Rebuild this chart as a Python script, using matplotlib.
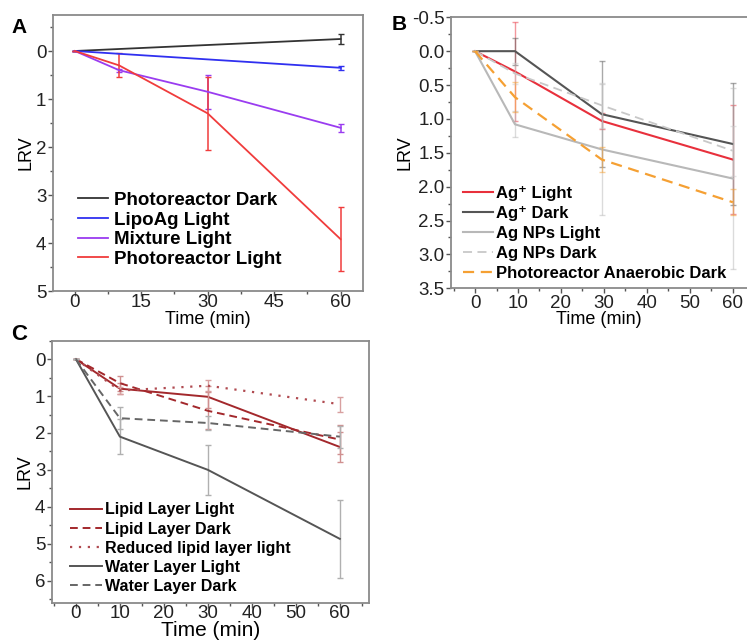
import matplotlib
matplotlib.use("Agg")
import matplotlib.pyplot as plt
from matplotlib.ticker import MultipleLocator

plt.rcParams['font.family'] = ['Liberation Sans', 'DejaVu Sans']

# ---------------- Data ----------------
# Panel A
a_x_two = [0, 60]
a_x_four = [0, 10, 30, 60]
a_dark = [0, -0.25]
a_dark_err = [0, 0.095]
a_lipo = [0, 0.35]
a_lipo_err = [0, 0.045]
a_mix = [0, 0.40, 0.85, 1.60]
a_mix_err = [0, 0.03, 0.35, 0.085]
a_light = [0, 0.30, 1.30, 3.92]
a_light_err = [0, 0.25, 0.76, 0.66]
a_labels = ["Photoreactor Dark", "LipoAg Light", "Mixture Light", "Photoreactor Light"]

# Panel B
b_x = [0, 9.3, 29.5, 60]
b_agl = [0, 0.30, 1.03, 1.60]
b_agl_err = [0, 0.73, 0.12, 0.80]
b_agd = [0, 0.00, 0.93, 1.37]
b_agd_err = [0, 0.20, 0.78, 0.90]
b_npl = [0, 1.08, 1.45, 1.88]
b_npl_err = [0, 0.19, 0.97, 1.34]
b_npd = [0, 0.33, 0.80, 1.47]
b_npd_err = [0, 0.15, 0.33, 0.37]
b_ana = [0, 0.68, 1.60, 2.23]
b_ana_err = [0, 0.22, 0.18, 0.19]
b_labels = ["Ag\u207a Light", "Ag\u207a Dark", "Ag NPs Light", "Ag NPs Dark",
            "Photoreactor Anaerobic Dark"]

# Panel C
c_x = [0, 10, 30, 60]
c_lll = [0, 0.80, 1.02, 2.38]
c_lll_err = [0, 0.15, 0.30, 0.40]
c_lld = [0, 0.65, 1.40, 2.18]
c_lld_err = [0, 0.20, 0.50, 0.40]
c_red = [0, 0.85, 0.72, 1.22]
c_red_err = [0, 0.10, 0.15, 0.20]
c_wll = [0, 2.10, 3.00, 4.87]
c_wll_err = [0, 0.48, 0.68, 1.05]
c_wld = [0, 1.60, 1.73, 2.10]
c_wld_err = [0, 0.30, 0.20, 0.30]
c_labels = ["Lipid Layer Light", "Lipid Layer Dark", "Reduced lipid layer light",
            "Water Layer Light", "Water Layer Dark"]

W, H = 747, 641
fig = plt.figure(figsize=(W / 100, H / 100), dpi=100)


def ax_px(l, r, t, b):
    return fig.add_axes([l / W, 1 - b / H, (r - l) / W, (b - t) / H])


SPINE = '#8a8a8a'


def style(ax, xmaj, xmin, ymaj, ymin, xpad, hide_right=False):
    for s in ax.spines.values():
        s.set_color(SPINE)
        s.set_linewidth(1.3)
    if hide_right:
        ax.spines['right'].set_visible(False)
    ax.xaxis.set_major_locator(MultipleLocator(xmaj))
    ax.xaxis.set_minor_locator(MultipleLocator(xmin))
    ax.yaxis.set_major_locator(MultipleLocator(ymaj))
    ax.yaxis.set_minor_locator(MultipleLocator(ymin))
    ax.tick_params(which='both', direction='out', color='#555555', top=False, right=False,
                   labelsize=13.5, labelcolor='#222222', width=1.0)
    ax.tick_params(which='major', length=3.5)
    ax.tick_params(which='minor', length=2.5)
    ax.tick_params(axis='y', which='major', pad=1)
    ax.tick_params(axis='x', which='major', pad=xpad)


# ---------------- Panel A ----------------
axA = ax_px(52.7, 362.7, 15, 291)
cA = ['#333333', '#3030f0', '#9a3cf0', '#f03c3c']
axA.errorbar(a_x_two, a_dark, yerr=a_dark_err, color=cA[0], lw=1.3, capsize=2.5, elinewidth=1.1,
             label=a_labels[0])
axA.errorbar(a_x_two, a_lipo, yerr=a_lipo_err, color=cA[1], lw=1.3, capsize=2.5, elinewidth=1.1,
             label=a_labels[1])
axA.errorbar(a_x_four, a_mix, yerr=a_mix_err, color=cA[2], lw=1.3, capsize=2.5, elinewidth=1.1,
             label=a_labels[2])
axA.errorbar(a_x_four, a_light, yerr=a_light_err, color=cA[3], lw=1.3, capsize=2.5, elinewidth=1.1,
             label=a_labels[3])
axA.set_xlim(-5, 65)
axA.set_ylim(5, -0.75)
style(axA, 15, 7.5, 1, 0.5, xpad=-1.2)
axA.set_yticks([0, 1, 2, 3, 4, 5])
axA.set_xlabel("Time (min)", fontsize=13, labelpad=-0.5)
axA.set_ylabel("LRV", fontsize=13, labelpad=1)
h, l = axA.get_legend_handles_labels()
h = [hh[0] for hh in h]
axA.legend(h, l, loc='upper left', bbox_to_anchor=(0.083, 0.36), frameon=False,
           prop={'weight': 'bold', 'size': 13.5}, handlelength=1.6, handletextpad=0.3,
           labelspacing=0.14, borderpad=0, borderaxespad=0)
fig.text(19.5 / W, 1 - 27.5 / H, "A", fontsize=15, fontweight='bold', ha='center', va='center')

# ---------------- Panel B ----------------
axB = ax_px(451, 747, 17.3, 288.3)
series_b = [
    (b_agl, b_agl_err, '#e8303c', '-', 1.5),
    (b_agd, b_agd_err, '#555555', '-', 1.5),
    (b_npl, b_npl_err, '#b8b8b8', '-', 1.5),
    (b_npd, b_npd_err, '#c8c8c8', (0, (5, 3)), 1.3),
    (b_ana, b_ana_err, '#f5a033', (0, (5, 3)), 1.6),
]
handles_b = []
for (y, e, c, ls, lw), lab in zip(series_b, b_labels):
    axB.errorbar(b_x, y, yerr=e, fmt='none', ecolor=c, elinewidth=1.0, capsize=2, alpha=0.5)
    ln, = axB.plot(b_x, y, color=c, ls=ls, lw=lw, label=lab)
    handles_b.append(ln)
axB.set_xlim(-5.6, 63.3)
axB.set_ylim(3.5, -0.5)
style(axB, 10, 5, 0.5, 0.25, xpad=1, hide_right=True)
axB.set_yticks([-0.5, 0.0, 0.5, 1.0, 1.5, 2.0, 2.5, 3.0, 3.5])
axB.set_yticklabels(["-0.5", "0.0", "0.5", "1.0", "1.5", "2.0", "2.5", "3.0", "3.5"])
axB.set_xlabel("Time (min)", fontsize=13, labelpad=-0.5)
axB.set_ylabel("LRV", fontsize=13, labelpad=-1)
axB.legend(handles_b, b_labels, loc='upper left', bbox_to_anchor=(0.04, 0.378), frameon=False,
           prop={'weight': 'bold', 'size': 12}, handlelength=1.8, handletextpad=0.2,
           labelspacing=0.3, borderpad=0, borderaxespad=0)
fig.text(399 / W, 1 - 24.5 / H, "B", fontsize=15, fontweight='bold', ha='center', va='center')

# ---------------- Panel C ----------------
axC = ax_px(51.7, 369.3, 340.7, 602.7)
series_c = [
    (c_lll, c_lll_err, '#a3282c', '-', 1.4, '#d09090'),
    (c_lld, c_lld_err, '#a3282c', (0, (4, 2.5)), 1.4, '#d09090'),
    (c_red, c_red_err, '#b04a50', (0, (1, 3)), 1.6, '#d8a0a0'),
    (c_wll, c_wll_err, '#555555', '-', 1.4, '#b0b0b0'),
    (c_wld, c_wld_err, '#666666', (0, (4, 2.5)), 1.4, '#b0b0b0'),
]
handles_c = []
for (y, e, c, ls, lw, ec), lab in zip(series_c, c_labels):
    axC.errorbar(c_x, y, yerr=e, fmt='none', ecolor=ec, elinewidth=1.0, capsize=2.5)
    ln, = axC.plot(c_x, y, color=c, ls=ls, lw=lw, label=lab)
    handles_c.append(ln)
axC.set_xlim(-5.5, 66.7)
axC.set_ylim(6.6, -0.5)
style(axC, 10, 5, 1, 0.5, xpad=-1.8)
axC.set_yticks([0, 1, 2, 3, 4, 5, 6])
axC.set_xlabel("Time (min)", fontsize=15, labelpad=-1)
axC.set_ylabel("LRV", fontsize=13, labelpad=1)
axC.legend(handles_c, c_labels, loc='upper left', bbox_to_anchor=(0.058, 0.383), frameon=False,
           prop={'weight': 'bold', 'size': 11.5}, handlelength=2.0, handletextpad=0.2,
           labelspacing=0.26, borderpad=0, borderaxespad=0)
fig.text(19 / W, 1 - 334 / H, "C", fontsize=16, fontweight='bold', ha='center', va='center')

fig.savefig("out.png", dpi=100)
